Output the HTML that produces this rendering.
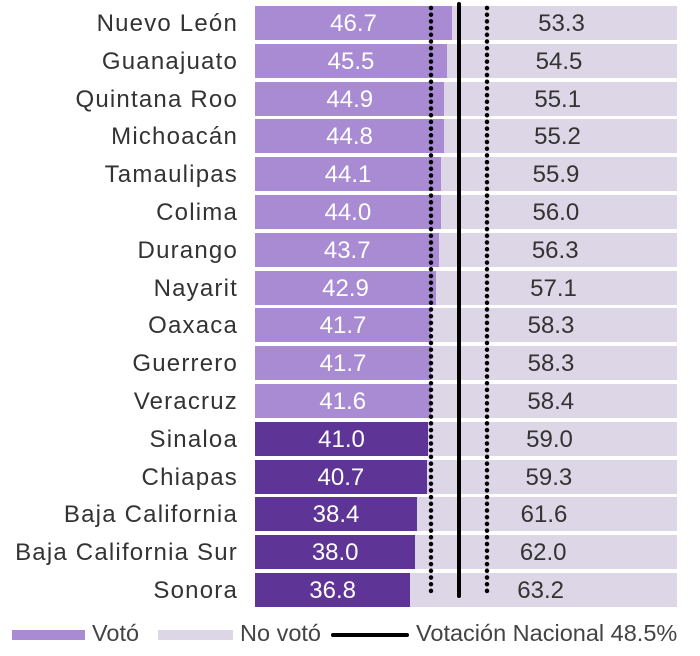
<!DOCTYPE html>
<html><head><meta charset="utf-8"><style>
body{margin:0;width:700px;height:656px;background:#fff;font-family:"Liberation Sans",sans-serif;position:relative;overflow:hidden}
.r{position:absolute;left:255px;width:422px;height:34px;background:#ddd6e6}
.p{position:absolute;left:0;top:0;height:34px;color:#fff;font-size:24px;line-height:35px;text-align:center}
.g{position:absolute;top:0;height:34px;color:#333;font-size:24px;line-height:35px;text-align:center}
.l{position:absolute;left:0;width:238px;text-align:right;font-size:24px;letter-spacing:1.2px;color:#333;line-height:35px;white-space:nowrap}
.lg{position:absolute;font-size:23.5px;color:#444;top:620px;white-space:nowrap}
</style></head><body>
<div id="c"></div>
<svg style="position:absolute;left:0;top:0" width="700" height="656">
<line x1="459" y1="4" x2="459" y2="596" stroke="#000" stroke-width="4" stroke-linecap="round"/>
<line x1="431" y1="8" x2="431" y2="596" stroke="#000" stroke-width="4.5" stroke-linecap="round" stroke-dasharray="0 6.7"/>
<line x1="487" y1="8" x2="487" y2="596" stroke="#000" stroke-width="4.5" stroke-linecap="round" stroke-dasharray="0 6.7"/>
</svg>
<div class="lg" style="left:12px;top:630px;width:73px;height:10px;background:#a88bd2"></div>
<div class="lg" style="left:92px">Votó</div>
<div class="lg" style="left:158px;top:630px;width:75px;height:10px;background:#ddd6e6"></div>
<div class="lg" style="left:240px">No votó</div>
<div class="lg" style="left:331px;top:633px;width:78px;height:4px;background:#000;border-radius:2px"></div>
<div class="lg" style="left:416px">Votación Nacional 48.5%</div>
<script>
var d=[["Nuevo León",46.7],["Guanajuato",45.5],["Quintana Roo",44.9],["Michoacán",44.8],["Tamaulipas",44.1],["Colima",44.0],["Durango",43.7],["Nayarit",42.9],["Oaxaca",41.7],["Guerrero",41.7],["Veracruz",41.6],["Sinaloa",41.0],["Chiapas",40.7],["Baja California",38.4],["Baja California Sur",38.0],["Sonora",36.8]];
var h="";
d.forEach(function(e,i){var y=6+i*37.8,w=e[1]*4.22,dark=i>=11;
h+='<div class="l" style="top:'+y+'px">'+e[0]+'</div><div class="r" style="top:'+y+'px"><div class="p" style="width:'+w+'px;background:'+(dark?'#5e3596':'#a88bd2')+'">'+e[1].toFixed(1)+'</div><div class="g" style="left:'+(w-3)+'px;width:'+(422-w)+'px">'+(100-e[1]).toFixed(1)+'</div></div>';});
document.getElementById("c").innerHTML=h;
</script>
</body></html>
